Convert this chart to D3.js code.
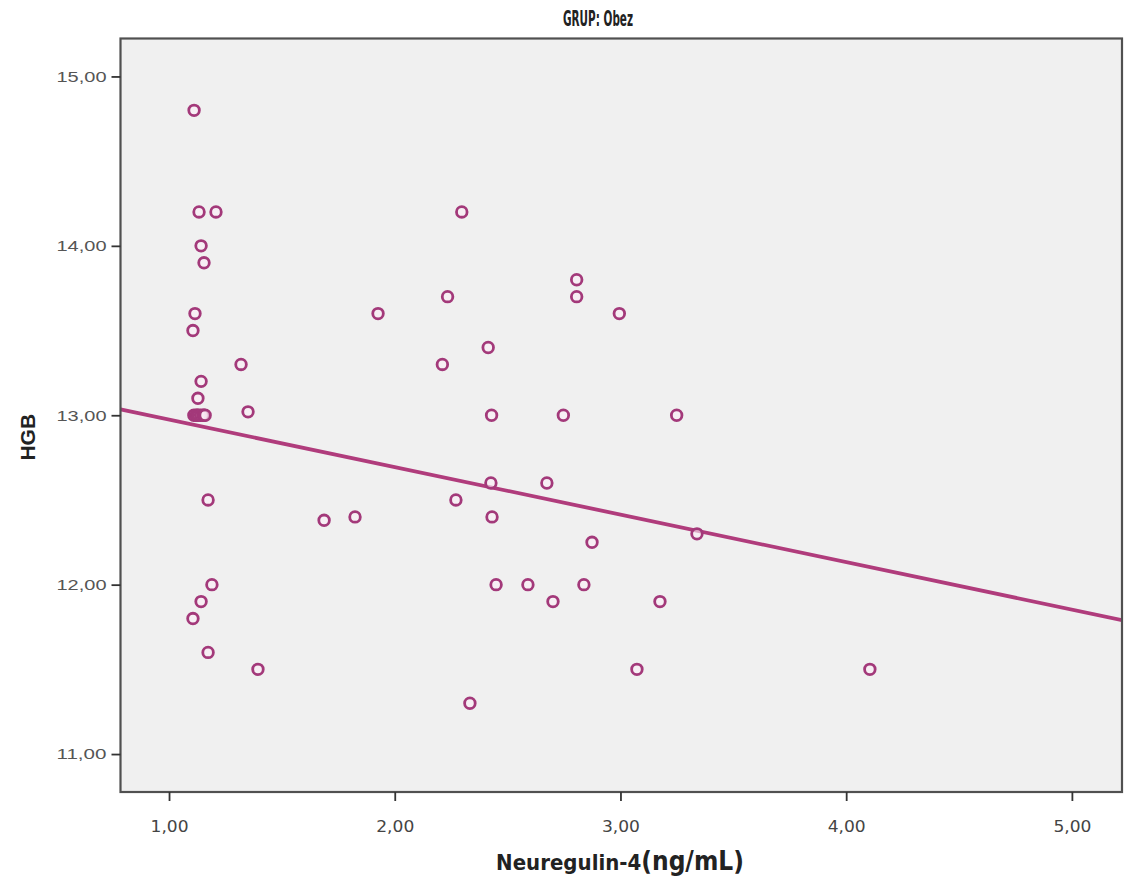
<!DOCTYPE html>
<html>
<head>
<meta charset="utf-8">
<script src="https://cdn.jsdelivr.net/npm/d3@7"></script>
<style>
  html, body { margin: 0; padding: 0; background: #ffffff; }
  svg { display: block; }
</style>
</head>
<body>
<svg id="chart" width="1128" height="886"></svg>
<script>
// ---- data ----
const titleText = "GRUP: Obez";
const xLabelMain = "Neuregulin-4";
const xLabelUnit = "(ng/mL)";
const yLabel = "HGB";

const neuregulin = [
  1.111, 1.133, 1.208, 1.142, 1.155, 1.115, 1.106, 1.142, 1.128,
  1.11, 1.12, 1.125, 1.13, 1.14, 1.15, 1.155, 1.16,
  1.319, 1.350, 1.173, 1.190, 1.142, 1.106, 1.173, 1.394,
  1.687, 1.824, 1.926, 2.234, 2.297, 2.211, 2.414, 2.429, 2.747,
  2.806, 2.806, 2.995, 3.249, 2.271, 2.426, 2.674, 2.431, 2.874,
  3.339, 2.449, 2.590, 2.838, 2.701, 3.175, 3.073, 2.333, 4.105
];
const hgb = [
  14.8, 14.2, 14.2, 14.0, 13.9, 13.6, 13.5, 13.2, 13.1,
  13.0, 13.0, 13.0, 13.0, 13.0, 13.0, 13.0, 13.0,
  13.3, 13.02, 12.5, 12.0, 11.9, 11.8, 11.6, 11.5,
  12.38, 12.4, 13.6, 13.7, 14.2, 13.3, 13.4, 13.0, 13.0,
  13.8, 13.7, 13.6, 13.0, 12.5, 12.6, 12.6, 12.4, 12.25,
  12.3, 12.0, 12.0, 12.0, 11.9, 11.9, 11.5, 11.3, 11.5
];

// fitted line (as drawn in the reference)
const fitIntercept = 13.255;
const fitSlope = -0.2805;

const xTicks = [1, 2, 3, 4, 5];
const yTicks = [11, 12, 13, 14, 15];
const xDomain = [0.785, 5.222];
const yDomain = [10.776, 15.224];

// ---- layout ----
const svg = d3.select("#chart");
const pL = 120.5, pR = 1122, pT = 38.5, pB = 792;
const fmt = v => d3.format(".2f")(v).replace(".", ",");

const x = d3.scaleLinear().domain(xDomain).range([pL, pR]);
const y = d3.scaleLinear().domain(yDomain).range([pB, pT]);

const markColor = "#a3397a";
const condensed = "'DejaVu Sans Condensed', 'Liberation Sans Narrow', 'Arial Narrow', sans-serif";

// plot background
svg.append("rect")
  .attr("x", pL).attr("y", pT)
  .attr("width", pR - pL).attr("height", pB - pT)
  .attr("fill", "#f0f0f0");

svg.append("defs").append("clipPath").attr("id", "clip")
  .append("rect")
  .attr("x", pL).attr("y", pT)
  .attr("width", pR - pL).attr("height", pB - pT);

// fit line
const plot = svg.append("g").attr("clip-path", "url(#clip)");
plot.append("line")
  .attr("x1", x(xDomain[0])).attr("y1", y(fitIntercept + fitSlope * xDomain[0]))
  .attr("x2", x(xDomain[1])).attr("y2", y(fitIntercept + fitSlope * xDomain[1]))
  .attr("stroke", "#b03c7c").attr("stroke-width", 3.8);

// points
const pts = neuregulin.map((v, i) => ({ x: v, y: hgb[i] }));
plot.selectAll("circle.pt").data(pts).enter().append("circle")
  .attr("class", "pt")
  .attr("cx", d => x(d.x)).attr("cy", d => y(d.y))
  .attr("r", 5.3)
  .attr("fill", "#fbeef6")
  .attr("fill-opacity", 0.6)
  .attr("stroke", markColor)
  .attr("stroke-width", 2.8);

// frame
svg.append("rect")
  .attr("x", pL).attr("y", pT)
  .attr("width", pR - pL).attr("height", pB - pT)
  .attr("fill", "none")
  .attr("stroke", "#505050").attr("stroke-width", 2.2);

// axes
const xAxis = d3.axisBottom(x).tickValues(xTicks).tickFormat(fmt).tickSizeInner(9).tickSizeOuter(0).tickPadding(20);
const gx = svg.append("g").attr("transform", `translate(0,${pB})`).call(xAxis);
gx.select(".domain").remove();
gx.selectAll(".tick line").attr("stroke", "#333").attr("stroke-width", 1.8);
gx.selectAll(".tick text")
  .attr("font-family", condensed)
  .attr("font-size", 16).attr("fill", "#444")
  .attr("textLength", 38).attr("lengthAdjust", "spacingAndGlyphs");

const yAxis = d3.axisLeft(y).tickValues(yTicks).tickFormat(fmt).tickSizeInner(9).tickSizeOuter(0).tickPadding(5);
const gy = svg.append("g").attr("transform", `translate(${pL},0)`).call(yAxis);
gy.select(".domain").remove();
gy.selectAll(".tick line").attr("stroke", "#333").attr("stroke-width", 1.8);
gy.selectAll(".tick text")
  .attr("font-family", "'Liberation Sans', Arial, sans-serif")
  .attr("font-size", 15).attr("fill", "#555")
  .attr("textLength", 50).attr("lengthAdjust", "spacingAndGlyphs");

// title
svg.append("text")
  .attr("x", 598).attr("y", 26)
  .attr("text-anchor", "middle")
  .attr("font-family", condensed)
  .attr("font-weight", "bold").attr("font-size", 21).attr("fill", "#222")
  .attr("textLength", 70).attr("lengthAdjust", "spacingAndGlyphs")
  .text(titleText);

// x label
const xl = svg.append("text")
  .attr("x", 620).attr("y", 870)
  .attr("text-anchor", "middle")
  .attr("font-family", condensed)
  .attr("font-weight", "bold").attr("fill", "#222");
xl.append("tspan").attr("font-size", 22).text(xLabelMain);
xl.append("tspan").attr("font-size", 26).text(xLabelUnit);

// y label
svg.append("text")
  .attr("transform", `translate(35,${(pT + pB) / 2 + 22}) rotate(-90)`)
  .attr("text-anchor", "middle")
  .attr("font-family", "'Liberation Sans', Arial, sans-serif")
  .attr("font-weight", "bold").attr("font-size", 21).attr("fill", "#222")
  .text(yLabel);
</script>
</body>
</html>
